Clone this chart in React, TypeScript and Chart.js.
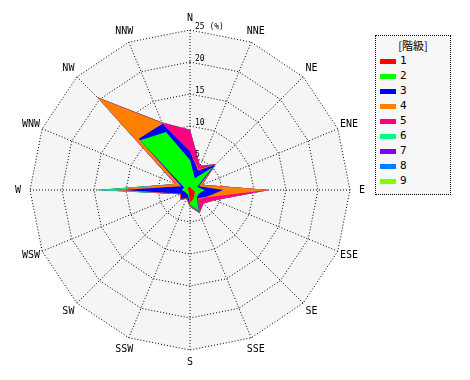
import React, { useEffect, useRef } from "react";
import { Chart, registerables } from "chart.js";

Chart.register(...registerables);

const directions = ["N", "NNE", "NE", "ENE", "E", "ESE", "SE", "SSE", "S", "SSW", "SW", "WSW", "W", "WNW", "NW", "NNW"];
const classNames = ["1", "2", "3", "4", "5", "6", "7", "8", "9"];
const classColors = ["#ff0000", "#00ff00", "#0000ff", "#ff8000", "#ff0080", "#00ff80", "#8000ff", "#0080ff", "#80ff00"];

// frequency (%) per class, per direction (N, NNE, ... NNW)
const class1 = [0.5, 0.3, 0.3, 0.3, 0.5, 0.8, 1.0, 1.5, 2.0, 0.5, 0.3, 0.3, 0.3, 0.3, 0.5, 0.5];
const class2 = [4.2, 1.7, 4.7, 0.9, 1.8, 0.7, 0.5, 2.1, 0.3, 0.3, 0.5, 0.5, 1.0, 0.7, 10.5, 9.3];
const class3 = [1.3, 1.3, 0.6, 0.3, 2.9, 1.3, 0.3, 0.1, 0.1, 0.5, 1.2, 0.7, 9.2, 0.5, 0.3, 1.4];
const class4 = [0.0, 0.2, 0.0, 0.5, 7.0, 0.2, 0.2, 0.1, 0.1, 0.1, 0.1, 0.1, 1.3, 0.9, 9.1, 0.1];
const class5 = [3.4, 0.6, 0.1, 0.1, 0.2, 1.2, 1.0, 0.1, 0.1, 0.1, 0.1, 0.1, 0.2, 0.1, 0.1, 0.1];
const class6 = [0, 0, 0, 0, 0, 0, 0, 0, 0, 0, 0, 0, 2.5, 0, 0, 0];
const class7 = [0, 0, 0, 0, 0, 0, 0, 0, 0, 0, 0, 0, 0, 0, 0, 0];
const class8 = [0, 0, 0, 0, 0, 0, 0, 0, 0, 0, 0, 0, 0.2, 0, 0, 0];
const class9 = [0, 0, 0, 0, 0, 0, 0, 0, 0, 0, 0, 0, 0.4, 0, 0, 0];

const tickValues = [5, 10, 15, 20, 25];
const tickLabels = ["5", "10", "15", "20", "25 (%)"];

const FONT = '"DejaVu Sans Mono", monospace';

const bgPlugin = {
  id: "polyBg",
  beforeDraw(chart: any) {
    const s = chart.scales.r;
    const ctx = chart.ctx;
    ctx.save();
    ctx.beginPath();
    for (let i = 0; i < directions.length; i++) {
      const p = s.getPointPosition(i, s.drawingArea);
      if (i === 0) ctx.moveTo(p.x, p.y);
      else ctx.lineTo(p.x, p.y);
    }
    ctx.closePath();
    ctx.fillStyle = "#f5f5f5";
    ctx.fill();
    ctx.restore();
  },
};

const textPlugin = {
  id: "axisText",
  afterDraw(chart: any) {
    const s = chart.scales.r;
    const ctx = chart.ctx;
    ctx.save();
    ctx.fillStyle = "#000";
    // radial tick labels
    ctx.font = "8px " + FONT;
    ctx.textAlign = "left";
    ctx.textBaseline = "middle";
    tickValues.forEach((v, i) => {
      const d = s.getDistanceFromCenterForValue(v);
      ctx.fillText(tickLabels[i], s.xCenter + 5, s.yCenter - d - 3);
    });
    // direction labels
    ctx.font = "10px " + FONT;
    ctx.textAlign = "center";
    ctx.textBaseline = "middle";
    s._pointLabels.forEach((lab: string, i: number) => {
      const p = s.getPointPosition(i, s.drawingArea + 12);
      ctx.fillText(lab, p.x, p.y);
    });
    ctx.restore();
  },
};

export default function App() {
  const ref = useRef<HTMLCanvasElement | null>(null);

  useEffect(() => {
    if (!ref.current) return;
    const classes = [class1, class2, class3, class4, class5, class6, class7, class8, class9];
    const running = directions.map(() => 0);
    const datasets = classes.map((vals, k) => {
      const cum = vals.map((v, i) => {
        running[i] += v;
        return +running[i].toFixed(2);
      });
      return {
        label: classNames[k],
        data: cum,
        backgroundColor: classColors[k],
        borderColor: "rgba(0,0,0,0)",
        borderWidth: 0,
        pointRadius: 0,
        fill: "origin",
      };
    });
    const chart = new Chart(ref.current, {
      type: "radar",
      data: { labels: directions, datasets },
      options: {
        animation: false,
        responsive: true,
        maintainAspectRatio: false,
        layout: { padding: 30 },
        plugins: { legend: { display: false }, tooltip: { enabled: false } },
        elements: { line: { tension: 0 } },
        scales: {
          r: {
            min: 0,
            max: 25,
            z: 1,
            ticks: { stepSize: 5, display: false },
            grid: { color: "#000", lineWidth: 1, circular: false },
            border: { dash: [1, 2] },
            angleLines: { color: "#000", lineWidth: 1, borderDash: [1, 2] },
            pointLabels: { display: false },
          },
        },
      },
      plugins: [bgPlugin, textPlugin],
    });
    return () => chart.destroy();
  }, []);

  return (
    <div style={{ position: "fixed", left: 0, top: 0, width: 470, height: 380, background: "#fff" }}>
      <div style={{ position: "absolute", left: 0, top: 0, width: 380, height: 380 }}>
        <canvas ref={ref} />
      </div>
      <div
        style={{
          position: "absolute",
          left: 375,
          top: 35,
          width: 74,
          height: 158,
          border: "1px dotted #000",
          background: "#f7f7f7",
          fontFamily: FONT,
          fontSize: 11,
          color: "#000",
        }}
      >
        <div style={{ position: "absolute", left: 0, top: 2, width: 74, textAlign: "center", fontFamily: '"Noto Sans CJK JP", ' + FONT, fontSize: 11, lineHeight: "14px", color: "#000" }}>
          [階級]
        </div>
        {classNames.map((n, k) => (
          <div key={n} style={{ position: "absolute", left: 4, top: 18 + k * 15, height: 14, display: "flex", alignItems: "center" }}>
            <span style={{ display: "inline-block", width: 16, height: 5, background: classColors[k], marginRight: 4 }} />
            <span style={{ lineHeight: "14px" }}>{n}</span>
          </div>
        ))}
      </div>
    </div>
  );
}
